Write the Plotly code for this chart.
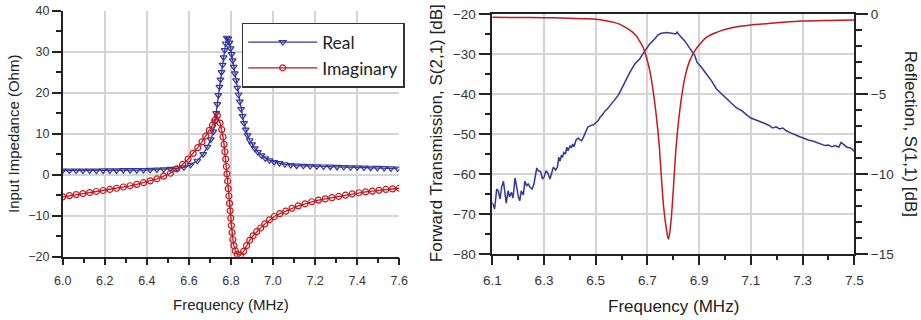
import plotly.graph_objects as go

# ---------------- Left panel: input impedance ----------------
real_freq = [6.000, 6.032, 6.064, 6.096, 6.128, 6.160, 6.192, 6.224, 6.256, 6.288,
             6.320, 6.352, 6.384, 6.416, 6.448, 6.480, 6.512, 6.544, 6.576, 6.608,
             6.640, 6.668, 6.688, 6.704, 6.716, 6.725, 6.730, 6.735, 6.740, 6.745,
             6.750, 6.755, 6.760, 6.765, 6.770, 6.775, 6.780, 6.787, 6.793, 6.798,
             6.803, 6.808, 6.813, 6.818, 6.824, 6.830, 6.836, 6.842, 6.848, 6.855,
             6.862, 6.870, 6.879, 6.889, 6.900, 6.913, 6.928, 6.945, 6.963, 6.983,
             7.005, 7.030, 7.056, 7.084, 7.112, 7.144, 7.176, 7.208, 7.240, 7.272,
             7.304, 7.336, 7.368, 7.400, 7.432, 7.464, 7.496, 7.528, 7.560, 7.592]
real_vals = [1.0, 1.0, 1.0, 1.0, 1.0, 1.0, 1.05, 1.05, 1.05, 1.1,
             1.1, 1.1, 1.15, 1.2, 1.25, 1.3, 1.4, 1.55, 1.8, 2.4,
             3.4, 5.0, 6.8, 8.6, 10.5, 13.0, 15.0, 17.2, 19.4, 21.4,
             23.2, 25.0, 26.8, 28.6, 30.4, 32.0, 33.4, 33.2, 32.2, 30.8,
             29.4, 27.9, 26.3, 24.7, 23.0, 21.2, 19.5, 17.8, 16.0, 14.3,
             12.6, 11.0, 9.6, 8.4, 7.4, 6.4, 5.5, 4.7, 4.0, 3.5,
             3.1, 2.8, 2.55, 2.35, 2.2, 2.15, 2.1, 2.05, 2.0, 1.95,
             1.9, 1.85, 1.8, 1.8, 1.75, 1.7, 1.65, 1.6, 1.55, 1.5]

imag_freq = [6.000, 6.032, 6.064, 6.096, 6.128, 6.160, 6.192, 6.224, 6.256, 6.288,
             6.320, 6.352, 6.384, 6.416, 6.448, 6.480, 6.512, 6.542, 6.570, 6.596,
             6.620, 6.642, 6.662, 6.680, 6.697, 6.712, 6.724, 6.735, 6.748, 6.756,
             6.762, 6.767, 6.771, 6.775, 6.778, 6.781, 6.784, 6.787, 6.790, 6.793,
             6.796, 6.799, 6.802, 6.805, 6.809, 6.814, 6.821, 6.830, 6.845, 6.860,
             6.874, 6.889, 6.905, 6.922, 6.941, 6.961, 6.983, 7.006, 7.032, 7.060,
             7.090, 7.120, 7.152, 7.184, 7.216, 7.248, 7.280, 7.312, 7.344, 7.376,
             7.408, 7.440, 7.472, 7.504, 7.536, 7.568, 7.600]
imag_vals = [-5.4, -5.1, -4.85, -4.6, -4.35, -4.1, -3.85, -3.6, -3.3, -3.0,
             -2.7, -2.35, -1.95, -1.5, -1.0, -0.35, 0.35, 1.4, 2.5, 3.8,
             5.2, 6.6, 8.0, 9.4, 10.8, 12.1, 13.3, 14.4, 12.6, 11.0,
             9.2, 7.4, 5.6, 3.8, 2.0, 0.2, -1.6, -3.4, -5.2, -7.0,
             -8.8, -10.6, -12.4, -14.1, -15.8, -17.3, -18.6, -19.4, -19.6, -18.7,
             -17.3, -16.0, -14.9, -13.9, -13.0, -12.0, -11.0, -10.2, -9.5, -8.9,
             -8.2, -7.6, -7.1, -6.6, -6.2, -5.9, -5.6, -5.3, -5.0, -4.7,
             -4.4, -4.2, -4.0, -3.8, -3.6, -3.45, -3.3]

# ---------------- Right panel: S-parameters ----------------
s21_freq = [6.100, 6.109, 6.117, 6.123, 6.130, 6.136, 6.143, 6.148, 6.154, 6.161,
            6.167, 6.174, 6.180, 6.188, 6.194, 6.201, 6.206, 6.212, 6.220, 6.226,
            6.233, 6.239, 6.246, 6.254, 6.261, 6.272, 6.278, 6.287, 6.294, 6.300,
            6.308, 6.315, 6.323, 6.330, 6.336, 6.345, 6.352, 6.357, 6.362, 6.367,
            6.372, 6.377, 6.383, 6.388, 6.393, 6.401, 6.406, 6.411, 6.416, 6.424,
            6.432, 6.439, 6.446, 6.455, 6.463, 6.470, 6.481, 6.491, 6.500, 6.509,
            6.517, 6.526, 6.535, 6.545, 6.555, 6.566, 6.577, 6.586, 6.593, 6.612,
            6.632, 6.651, 6.670, 6.690, 6.709, 6.728, 6.741, 6.754, 6.774, 6.793,
            6.810, 6.815, 6.825, 6.845, 6.864, 6.883, 6.892, 6.909, 6.928, 6.948,
            6.967, 6.986, 7.006, 7.015, 7.041, 7.067, 7.087, 7.100, 7.120, 7.133,
            7.146, 7.159, 7.172, 7.185, 7.198, 7.211, 7.224, 7.237, 7.250, 7.263,
            7.276, 7.289, 7.303, 7.322, 7.342, 7.361, 7.374, 7.387, 7.400, 7.414,
            7.427, 7.440, 7.449, 7.459, 7.472, 7.485, 7.500]
s21_vals = [-67.1, -68.75, -63.75, -64.2, -66.25, -63.3, -61.8, -64.2, -67.3, -64.2,
            -65.7, -64.6, -66.0, -61.0, -63.3, -65.7, -66.7, -64.2, -65.2, -61.8,
            -62.9, -62.5, -63.3, -63.75, -62.5, -58.5, -59.2, -59.4, -61.25, -60.8,
            -59.2, -59.8, -61.25, -59.8, -58.3, -59.0, -58.3, -55.8, -56.8, -55.4,
            -55.7, -54.6, -55.0, -53.3, -54.2, -52.9, -53.5, -52.5, -53.2, -51.5,
            -51.0, -51.5, -51.7, -50.4, -49.3, -48.2, -47.9, -47.7, -47.2, -46.7,
            -45.8, -45.2, -44.3, -43.75, -42.9, -42.1, -41.25, -40.4, -39.6, -37.1,
            -34.6, -32.5, -31.25, -29.2, -27.5, -26.25, -25.2, -24.8, -24.6, -24.8,
            -25.0, -24.5, -25.4, -26.8, -28.75, -30.4, -32.1, -33.3, -35.0, -36.7,
            -38.75, -40.0, -41.25, -41.7, -43.3, -44.3, -45.4, -46.0, -46.5, -46.8,
            -47.1, -47.5, -47.9, -48.5, -48.2, -48.75, -48.5, -49.2, -49.6, -50.0,
            -50.4, -50.7, -51.0, -51.5, -51.8, -52.3, -52.5, -52.9, -52.75, -53.2,
            -52.9, -53.3, -52.1, -52.7, -53.3, -53.5, -54.3]

s11_freq = [6.100, 6.200, 6.300, 6.400, 6.450, 6.500, 6.540, 6.565, 6.590, 6.617,
            6.640, 6.656, 6.670, 6.683, 6.696, 6.709, 6.722, 6.735, 6.745, 6.754,
            6.763, 6.774, 6.781, 6.789, 6.799, 6.810, 6.819, 6.832, 6.845, 6.864,
            6.883, 6.903, 6.928, 6.967, 7.006, 7.057, 7.100, 7.200, 7.300, 7.400,
            7.500]
s11_vals = [-0.21, -0.22, -0.23, -0.26, -0.29, -0.33, -0.42, -0.5, -0.62, -0.85,
            -1.1, -1.35, -1.7, -2.08, -2.7, -3.54, -4.8, -6.46, -8.1, -10.2,
            -12.1, -13.5, -14.06, -13.3, -11.25, -8.5, -6.9, -5.2, -3.96, -2.9,
            -2.3, -1.875, -1.46, -1.15, -0.94, -0.76, -0.69, -0.54, -0.44, -0.4,
            -0.375]

BLUE = "#34379a"
RED = "#c4191f"
AXC = "#222222"
GRID = "#d4d4d4"
TICKFONT = dict(family="Liberation Sans, Arial, sans-serif", size=12.5, color="#333333")
TICKFONT_R = dict(family="Liberation Sans, Arial, sans-serif", size=13.5, color="#333333")

W, H = 921, 320

fig = go.Figure()

fig.add_trace(go.Scatter(
    x=real_freq, y=real_vals, name="Real", mode="lines+markers",
    line=dict(color=BLUE, width=1.3),
    marker=dict(symbol="triangle-down-open", size=6, color=BLUE, line=dict(width=1.2, color=BLUE)),
    xaxis="x", yaxis="y"))
fig.add_trace(go.Scatter(
    x=imag_freq, y=imag_vals, name="Imaginary", mode="lines+markers",
    line=dict(color=RED, width=1.3),
    marker=dict(symbol="circle-open", size=6, color=RED, line=dict(width=1.2, color=RED)),
    xaxis="x", yaxis="y"))

fig.add_trace(go.Scatter(
    x=s21_freq, y=s21_vals, mode="lines", showlegend=False,
    line=dict(color=BLUE, width=1.5), xaxis="x2", yaxis="y2"))
fig.add_trace(go.Scatter(
    x=s11_freq, y=s11_vals, mode="lines", showlegend=False, line_shape="spline",
    line=dict(color=RED, width=1.5), xaxis="x2", yaxis="y3"))


def px_x(p):
    return p / W


def px_y(p):
    return 1 - p / H


common = dict(showline=True, linecolor=AXC, linewidth=1.5, ticks="outside",
              tickcolor=AXC, tickwidth=1.5, showgrid=True, gridcolor=GRID,
              gridwidth=1.5, zeroline=False)

fig.update_layout(
    width=W, height=H,
    margin=dict(l=0, r=0, t=0, b=0, autoexpand=False),
    paper_bgcolor="white", plot_bgcolor="white",
    xaxis=dict(domain=[px_x(62.7), px_x(399.3)], range=[6.0, 7.6001], anchor="y",
               tick0=6.0, dtick=0.2, tickformat=".1f", ticklen=7, ticklabelstandoff=5,
               minor=dict(tick0=6.0, dtick=0.1, ticklen=5, tickwidth=1.5, tickcolor=AXC,
                          ticks="outside", showgrid=False),
               tickfont=TICKFONT, **common),
    yaxis=dict(domain=[px_y(256.7), px_y(10.7)], range=[-20, 40.001], anchor="x",
               dtick=10, ticklen=9,
               minor=dict(dtick=5, ticklen=5, tickwidth=1.5, tickcolor=AXC,
                          ticks="outside", showgrid=False),
               tickfont=TICKFONT, **common),
    xaxis2=dict(domain=[px_x(492.3), px_x(854.3)], range=[6.1, 7.5001], anchor="y2",
                tick0=6.1, dtick=0.2, tickformat=".1f", ticklen=9, mirror=True,
                ticklabelstandoff=4,
                minor=dict(tick0=6.1, dtick=0.1, ticklen=4, tickwidth=1.5, tickcolor=AXC,
                           ticks="outside", showgrid=False),
                tickfont=TICKFONT_R, **common),
    yaxis2=dict(domain=[px_y(254), px_y(14)], range=[-80, -20], anchor="x2",
                dtick=10, ticklen=12,
                minor=dict(dtick=5, ticklen=6, tickwidth=1.5, tickcolor=AXC,
                           ticks="outside", showgrid=False),
                tickfont=TICKFONT_R, **common),
    yaxis3=dict(overlaying="y2", side="right", anchor="x2", range=[-15, 0],
                dtick=5, ticklen=12, showline=True, linecolor=AXC, linewidth=1.5,
                ticks="outside", tickcolor=AXC, tickwidth=1.5, showgrid=False,
                zeroline=False,
                minor=dict(dtick=1, ticklen=6, tickwidth=1.5, tickcolor=AXC,
                           ticks="outside", showgrid=False),
                tickfont=TICKFONT_R),
    legend=dict(x=px_x(241.7), y=px_y(22.7), xanchor="left", yanchor="top",
                bgcolor="white", bordercolor="#333333", borderwidth=1.5,
                font=dict(family="Lato, Open Sans, sans-serif", size=17.5, color="#222222"),
                itemwidth=69, tracegroupgap=0),
    showlegend=True,
)

TITLEFONT_L = dict(family="Liberation Sans, Arial, sans-serif", size=15, color="#222222")
TITLEFONT_R = dict(family="Liberation Sans, Arial, sans-serif", size=17, color="#222222")

annotations = [
    dict(text="Frequency (MHz)", x=px_x(231), y=px_y(304), font=TITLEFONT_L, textangle=0),
    dict(text="Input Impedance (Ohm)", x=px_x(13.3), y=px_y(133.7), font=TITLEFONT_L, textangle=-90),
    dict(text="Frequency (MHz)", x=px_x(673.3), y=px_y(306.7), font=TITLEFONT_R, textangle=0),
    dict(text="Forward Transmission, S(2,1) [dB]", x=px_x(436.7), y=px_y(133.5), font=TITLEFONT_R, textangle=-90),
    dict(text="Reflection, S(1,1) [dB]", x=px_x(910), y=px_y(133.8), font=TITLEFONT_R, textangle=90),
]
for a in annotations:
    fig.add_annotation(xref="paper", yref="paper", showarrow=False,
                       xanchor="center", yanchor="middle", **a)

fig.write_html("out.html", config={"displayModeBar": False},
               post_script="document.body.style.margin='0';document.body.style.overflow='hidden';")
